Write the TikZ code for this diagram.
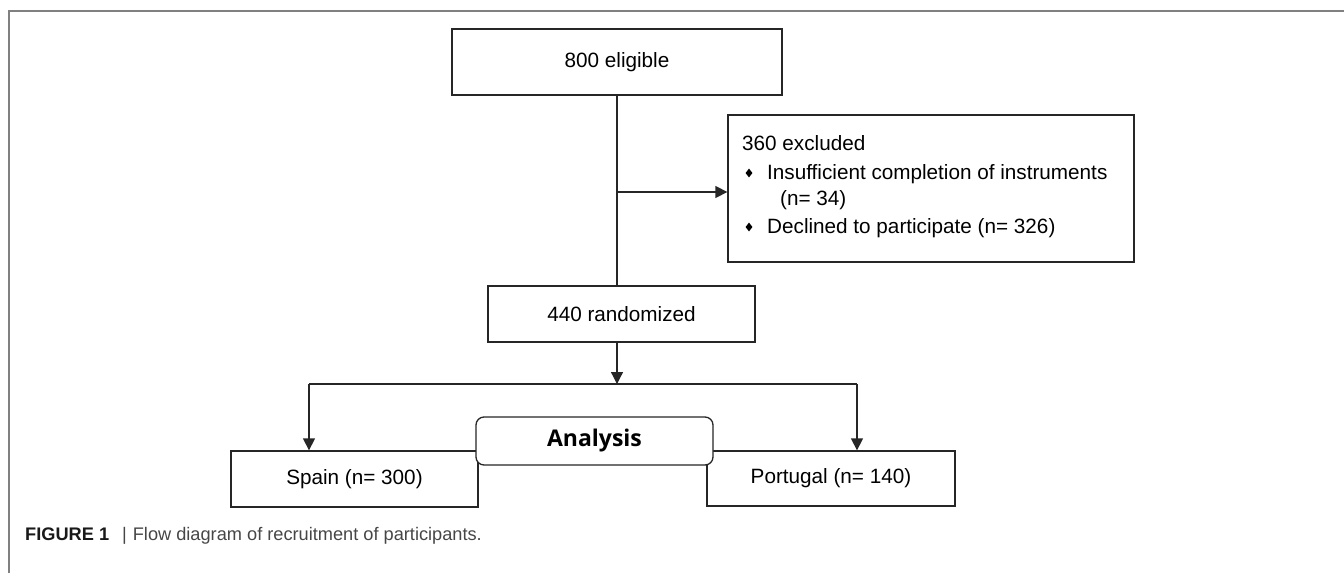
\documentclass[tikz,border=0pt]{standalone}
\usepackage{fontspec}
\setmainfont{Liberation Sans}
\newfontfamily\anfont{Open Sans}
\usetikzlibrary{arrows.meta,shapes.geometric}
\definecolor{framegray}{RGB}{128,128,128}
\definecolor{capgray}{RGB}{70,70,70}
\tikzset{
  boxnode/.style={draw=black!85, line width=1.3pt, rectangle, inner sep=0pt, fill=white,
    font=\fontsize{20.7}{24}\selectfont},
  conn/.style={line width=1.3pt, draw=black!85},
  arr/.style={conn, -{Triangle[length=12pt,width=12pt]}},
  txt/.style={inner sep=0pt, anchor=base west, font=\fontsize{20.7}{24}\selectfont},
  bul/.style={diamond, fill=black, inner sep=0pt, minimum width=7pt, minimum height=9pt},
  anbox/.style={boxnode, rounded corners=8pt, font=\anfont\bfseries\fontsize{23}{26}\selectfont}
}
\begin{document}
\begin{tikzpicture}[x=1pt,y=-1pt]
\useasboundingbox (0,0) rectangle (1344,573);
% frame
\draw[framegray, line width=1.2pt] (9,573) -- (9,11) -- (1344,11);

% boxes
\node[boxnode, minimum width=330pt, minimum height=66pt] (elig) at (617,62) {800 eligible};
\node[boxnode, minimum width=406pt, minimum height=147pt] (excl) at (931,188.5) {};
\node[txt] (t1) at (742,150) {360 excluded};
\node[bul] (b1) at (749,173) {};
\node[txt] (t2) at (767,179) {Insufficient completion of instruments};
\node[txt] (t3) at (780,205) {(n= 34)};
\node[bul] (b2) at (749,227) {};
\node[txt] (t4) at (767,233) {Declined to participate (n= 326)};

\node[boxnode, minimum width=267pt, minimum height=56pt] (rand) at (621.5,314) {440 randomized};
\node[boxnode, minimum width=247pt, minimum height=56pt] (spain) at (354.5,479) {Spain (n= 300)};
\node[boxnode, minimum width=248pt, minimum height=55pt] (port) at (831,478.5) {Portugal (n= 140)};

% connectors
\coordinate (br) at (617,192);
\coordinate (split) at (617,384);
\coordinate (sL) at (309,384);
\coordinate (sR) at (857,384);
\draw[conn] (elig.south -| br) -- (br |- rand.north);
\draw[arr] (br) -- (br -| excl.west);
\draw[arr] (rand.south -| split) -- (split);
\draw[conn] (sL) -- (sR);
\draw[arr] (sL) -- (sL |- spain.north);
\draw[arr] (sR) -- (sR |- port.north);

% analysis box on top
\node[anbox, minimum width=237pt, minimum height=48pt] (anal) at (594.5,441) {Analysis};

% caption
\node[inner sep=0pt, anchor=base west, text=capgray, font=\fontsize{18.2}{22}\selectfont] (cap) at (25,540)
  {\textbf{\color{black!90}FIGURE 1}\hspace{13pt}|\hspace{6pt}Flow diagram of recruitment of participants.};
\end{tikzpicture}
\end{document}
